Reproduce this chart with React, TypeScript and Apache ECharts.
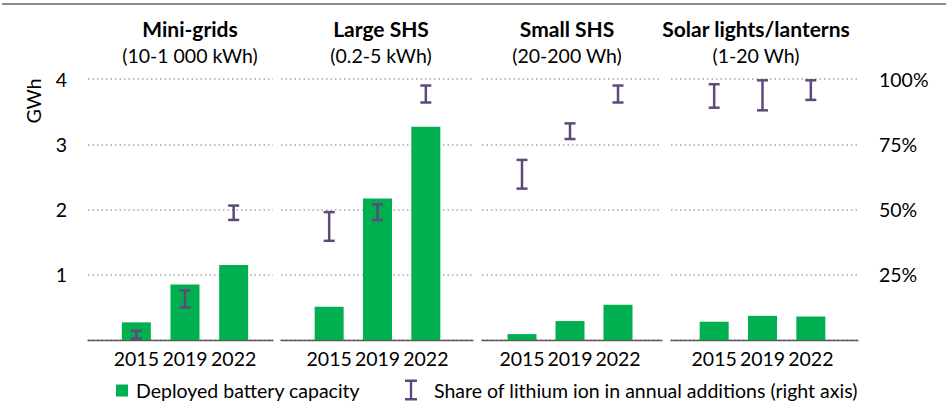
import { useEffect, useRef } from "react";
import * as echarts from "echarts";

// ---- data ----
const years = ["2015", "2019", "2022"];
const panelTitles = ["Mini-grids", "Large SHS", "Small SHS", "Solar lights/lanterns"];
const panelSubtitles = ["(10-1 000 kWh)", "(0.2-5 kWh)", "(20-200 Wh)", "(1-20 Wh)"];

// Deployed battery capacity (GWh)
const miniGridsCapacity = [0.27, 0.85, 1.15];
const largeShsCapacity = [0.51, 2.17, 3.27];
const smallShsCapacity = [0.09, 0.29, 0.54];
const solarLightsCapacity = [0.28, 0.37, 0.36];

// Share of lithium ion in annual additions (%), low / high range
const miniGridsLiLow = [0.5, 12.5, 46];
const miniGridsLiHigh = [3.5, 19, 51.5];
const largeShsLiLow = [38, 46, 91];
const largeShsLiHigh = [49, 52, 97.5];
const smallShsLiLow = [58, 77, 91];
const smallShsLiHigh = [69, 83, 97.5];
const solarLightsLiLow = [89, 88, 92];
const solarLightsLiHigh = [98, 99.5, 99.5];

const capacityTicks = { min: 0, max: 4, interval: 1 };
const shareTicks = { min: 0, max: 100, interval: 25 };

const capacitySeries = [miniGridsCapacity, largeShsCapacity, smallShsCapacity, solarLightsCapacity];
const lowSeries = [miniGridsLiLow, largeShsLiLow, smallShsLiLow, solarLightsLiLow];
const highSeries = [miniGridsLiHigh, largeShsLiHigh, smallShsLiHigh, solarLightsLiHigh];

const BAR_NAME = "Deployed battery capacity";
const LI_NAME = "Share of lithium ion in annual additions (right axis)";

// ---- layout / style ----
const FONT = "Lato";
const FS = 19.5;
const TFS = 21;
const GREEN = "#00B050";
const PURPLE = "#5F497A";
const TOP = 79;
const HEIGHT = 261;
const outer = [
  [88, 273],
  [281, 473],
  [482, 662],
  [671, 858],
];
const inner = [
  [112, 258],
  [305, 450],
  [498, 642],
  [690, 835],
];
const titleX = [190, 381, 567, 756];

function buildOption() {
  const grid: any[] = [];
  const xAxis: any[] = [];
  const yAxis: any[] = [];
  const series: any[] = [];
  const graphic: any[] = [];

  graphic.push({
    type: "line",
    shape: { x1: 2, y1: 4, x2: 946, y2: 4 },
    style: { stroke: "#8C8C8C", lineWidth: 2 },
  });
  graphic.push({
    type: "text",
    x: 33,
    y: 101,
    rotation: Math.PI / 2,
    style: { text: "GWh", font: `${FS}px ${FONT}`, fill: "#000", align: "center", verticalAlign: "middle" },
  });

  for (let p = 0; p < 4; p++) {
    const [ol, or] = outer[p];
    const [il, ir] = inner[p];
    const og = grid.length;
    grid.push({ left: ol, width: or - ol, top: TOP, height: HEIGHT });
    xAxis.push({
      type: "value",
      gridIndex: og,
      min: 0,
      max: 1,
      axisLine: { show: true, onZero: false, lineStyle: { color: "#595959", width: 1.3 } },
      axisTick: { show: false },
      axisLabel: { show: false },
      splitLine: { show: false },
    });
    yAxis.push({
      type: "value",
      gridIndex: og,
      ...capacityTicks,
      position: "left",
      axisLine: { show: false },
      axisTick: { show: false },
      axisLabel: {
        show: p === 0,
        showMinLabel: false,
        margin: 21,
        fontSize: FS,
        fontFamily: FONT,
        color: "#000",
        formatter: (v: number) => (v === 0 ? "" : String(v)),
      },
      splitLine: { show: true, lineStyle: { color: "#A6A6A6", width: 1.5, type: [1.5, 3] } },
    });
    yAxis.push({
      type: "value",
      gridIndex: og,
      ...shareTicks,
      position: "right",
      axisLine: { show: false },
      axisTick: { show: false },
      axisLabel: {
        show: p === 3,
        showMinLabel: false,
        margin: 21,
        fontSize: FS,
        fontFamily: FONT,
        color: "#000",
        align: "left",
        formatter: (v: number) => (v === 0 ? "" : v + "%"),
      },
      splitLine: { show: false },
    });

    const ig = grid.length;
    grid.push({ left: il, width: ir - il, top: TOP, height: HEIGHT });
    const xi = xAxis.length;
    xAxis.push({
      type: "category",
      gridIndex: ig,
      data: years,
      axisLine: { show: false },
      axisTick: { show: false },
      axisLabel: {
        interval: 0,
        hideOverlap: false,
        margin: 8,
        fontSize: FS,
        fontFamily: FONT,
        color: "#000",
      },
      splitLine: { show: false },
    });
    const yl = yAxis.length;
    yAxis.push({ type: "value", gridIndex: ig, ...capacityTicks, show: false, splitLine: { show: false } });
    const yr = yAxis.length;
    yAxis.push({ type: "value", gridIndex: ig, ...shareTicks, show: false, splitLine: { show: false } });

    series.push({
      type: "bar",
      name: BAR_NAME,
      xAxisIndex: xi,
      yAxisIndex: yl,
      data: capacitySeries[p],
      barWidth: 29,
      itemStyle: { color: GREEN },
      z: 2,
    });
    series.push({
      type: "custom",
      name: LI_NAME,
      xAxisIndex: xi,
      yAxisIndex: yr,
      itemStyle: { color: PURPLE },
      z: 3,
      encode: { x: 0, y: [1, 2] },
      data: years.map((_, i) => [i, lowSeries[p][i], highSeries[p][i]]),
      renderItem: (_params: any, api: any) => {
        const x = api.value(0);
        const lo = api.coord([x, api.value(1)]);
        const hi = api.coord([x, api.value(2)]);
        const hw = 5.5;
        const style = { stroke: PURPLE, lineWidth: 2.5, fill: null };
        return {
          type: "group",
          children: [
            { type: "line", shape: { x1: lo[0], y1: lo[1], x2: hi[0], y2: hi[1] }, style },
            { type: "line", shape: { x1: lo[0] - hw, y1: lo[1], x2: lo[0] + hw, y2: lo[1] }, style },
            { type: "line", shape: { x1: hi[0] - hw, y1: hi[1], x2: hi[0] + hw, y2: hi[1] }, style },
          ],
        };
      },
    });

    graphic.push({
      type: "text",
      x: titleX[p],
      y: 28,
      style: {
        text: panelTitles[p],
        font: `bold ${TFS}px ${FONT}`,
        fill: "#000",
        align: "center",
        verticalAlign: "middle",
      },
    });
    graphic.push({
      type: "text",
      x: titleX[p],
      y: 55,
      style: {
        text: panelSubtitles[p],
        font: `${FS}px ${FONT}`,
        fill: "#000",
        align: "center",
        verticalAlign: "middle",
      },
    });
  }

  return {
    animation: false,
    textStyle: { fontFamily: FONT },
    grid,
    xAxis,
    yAxis,
    series,
    graphic,
    legend: [
      {
        left: 116,
        top: 380.5,
        padding: 0,
        itemWidth: 12,
        itemHeight: 12,
        itemGap: 0,
        data: [{ name: BAR_NAME, icon: "rect" }],
        textStyle: { fontSize: FS, fontFamily: FONT, color: "#000", padding: [0, 0, 0, 3] },
      },
      {
        left: 405,
        top: 379.5,
        padding: 0,
        itemWidth: 12,
        itemHeight: 21,
        itemGap: 0,
        data: [
          {
            name: LI_NAME,
            icon: "path://M0,0 L12,0 L12,2.5 L7.2,2.5 L7.2,18.5 L12,18.5 L12,21 L0,21 L0,18.5 L4.8,18.5 L4.8,2.5 L0,2.5 Z",
          },
        ],
        textStyle: { fontSize: FS, fontFamily: FONT, color: "#000", padding: [0, 0, 0, 12] },
      },
    ],
  };
}

export default function App() {
  const ref = useRef<HTMLDivElement>(null);
  useEffect(() => {
    if (!ref.current) return;
    const chart = echarts.init(ref.current, undefined, { renderer: "svg" });
    chart.setOption(buildOption() as any);
    return () => chart.dispose();
  }, []);
  return (
    <div
      ref={ref}
      style={{ position: "fixed", left: 0, top: 0, width: 948, height: 407, background: "#fff" }}
    />
  );
}
